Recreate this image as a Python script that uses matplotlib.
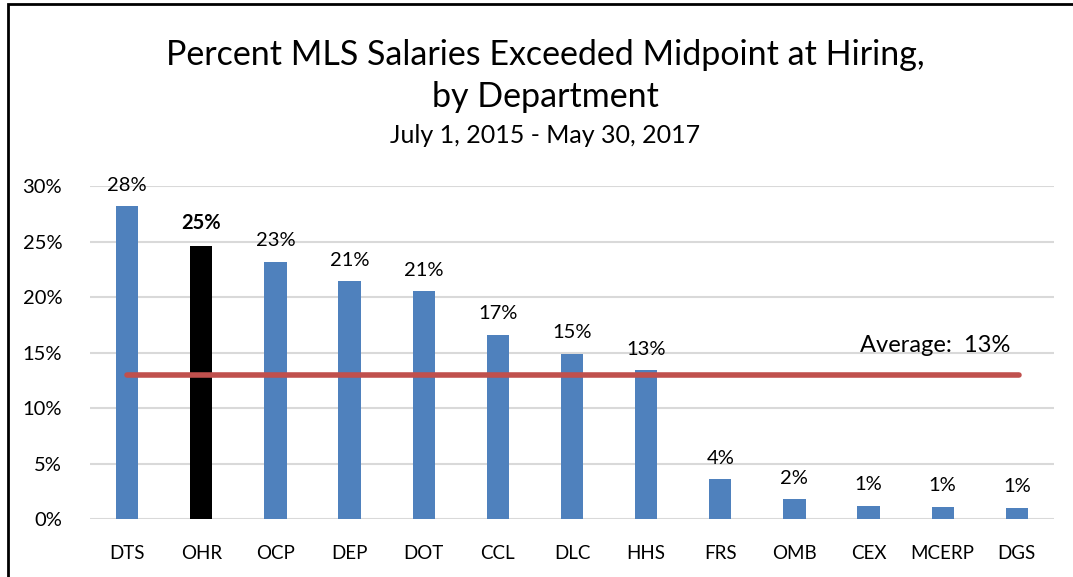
import matplotlib.pyplot as plt
from matplotlib.patches import Rectangle

# data
departments = ['DTS', 'OHR', 'OCP', 'DEP', 'DOT', 'CCL', 'DLC', 'HHS', 'FRS', 'OMB', 'CEX', 'MCERP', 'DGS']
percent = [28.2, 24.6, 23.2, 21.4, 20.5, 16.6, 14.9, 13.4, 3.6, 1.8, 1.2, 1.1, 1.0]
labels = ['28%', '25%', '23%', '21%', '21%', '17%', '15%', '13%', '4%', '2%', '1%', '1%', '1%']
highlight = 'OHR'
average = 13.0
yticks = [0, 5, 10, 15, 20, 25, 30]

plt.rcParams['font.family'] = ['Lato', 'DejaVu Sans']

BLUE = '#4f81bd'
RED = '#c0504d'
GRID = '#d9d9d9'

fig = plt.figure(figsize=(10.73, 5.77), dpi=100)
ax = fig.add_axes([0.0839, 0.1005, 0.8983, 0.5771])

x = list(range(len(departments)))
colors = ['black' if d == highlight else BLUE for d in departments]
ax.bar(x, percent, width=0.3, color=colors, zorder=2)

for xi, v, lab, d in zip(x, percent, labels, departments):
    ax.annotate(lab, (xi, v), xytext=(0, 9), textcoords='offset points',
                ha='center', va='bottom', fontsize=14.5,
                fontweight='bold' if d == highlight else 'normal')

# average line
ax.plot([0, 12.03], [average, average], color=RED, linewidth=4,
        solid_capstyle='round', zorder=3)
ax.text(10.9, 15.6, f'Average:  {average:.0f}%', ha='center', va='center', fontsize=17)

ax.set_xlim(-0.5, len(departments) - 0.5)
ax.set_ylim(0, 30)
ax.set_yticks(yticks)
ax.set_yticklabels([f'{t}%' for t in yticks], fontsize=14.5)
ax.set_xticks(x)
ax.set_xticklabels(departments, fontsize=13.5)
ax.tick_params(axis='both', length=0)
ax.tick_params(axis='y', pad=20)
ax.tick_params(axis='x', pad=19)
ax.yaxis.grid(True, color=GRID, linewidth=1.5, zorder=0)
ax.set_axisbelow(True)
for s in ax.spines.values():
    s.set_visible(False)

fig.text(0.508, 0.905, 'Percent MLS Salaries Exceeded Midpoint at Hiring,', ha='center', va='center', fontsize=24.5)
fig.text(0.508, 0.832, 'by Department', ha='center', va='center', fontsize=24.5)
fig.text(0.508, 0.765, 'July 1, 2015 - May 30, 2017', ha='center', va='center', fontsize=18)

# outer frame
fig.patches.append(Rectangle((8 / 1073, -0.1), 1.2, 1.1 - 4 / 577, transform=fig.transFigure,
                             fill=False, edgecolor='black', linewidth=2))

fig.savefig('out.png', dpi=100)
